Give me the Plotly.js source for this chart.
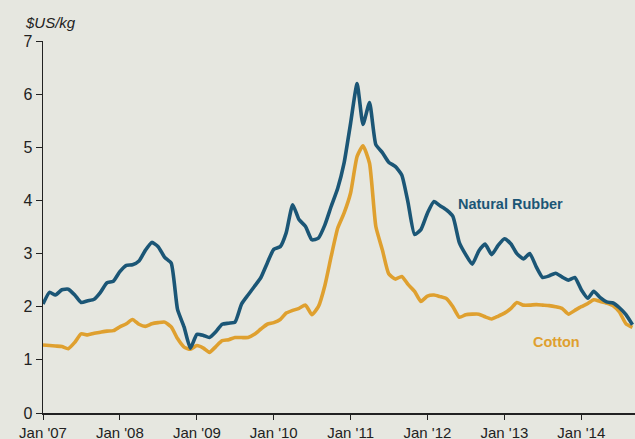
<!DOCTYPE html>
<html>
<head>
<meta charset="utf-8">
<script src="https://cdn.plot.ly/plotly-3.0.1.min.js"></script>
<style>
html,body{margin:0;padding:0;background:#e6e7e0;}
#chart{width:635px;height:439px;}
</style>
</head>
<body>
<div id="chart"></div>
<script>
// Monthly observations, Jan 2007 .. Sep 2014 (US$/kg)
var startYear = 2007;
var rubber = [
  2.05, 2.27, 2.22, 2.32, 2.33, 2.22, 2.08, 2.11, 2.14, 2.27, 2.45, 2.48,
  2.66, 2.78, 2.79, 2.86, 3.06, 3.21, 3.13, 2.93, 2.82, 1.95, 1.62, 1.22,
  1.48, 1.46, 1.42, 1.53, 1.67, 1.69, 1.71, 2.05, 2.22, 2.38, 2.55, 2.82,
  3.08, 3.13, 3.39, 3.92, 3.64, 3.51, 3.26, 3.29, 3.54, 3.89, 4.23, 4.70,
  5.45, 6.20, 5.43, 5.84, 5.05, 4.90, 4.72, 4.64, 4.48, 3.96, 3.36, 3.45,
  3.76, 3.98, 3.90, 3.82, 3.70, 3.20, 2.98, 2.80, 3.05, 3.18, 2.98, 3.15,
  3.28, 3.18, 3.00, 2.90, 3.00, 2.75, 2.55, 2.58, 2.63, 2.56, 2.50, 2.55,
  2.32, 2.16, 2.29, 2.17, 2.09, 2.07, 1.98, 1.85, 1.66
];
var cotton = [
  1.28, 1.27, 1.26, 1.25, 1.21, 1.33, 1.49, 1.47, 1.50, 1.52, 1.54, 1.55,
  1.62, 1.68, 1.76, 1.67, 1.63, 1.68, 1.70, 1.71, 1.62, 1.40, 1.24, 1.20,
  1.27, 1.22, 1.14, 1.25, 1.36, 1.38, 1.42, 1.42, 1.42, 1.48, 1.58, 1.67,
  1.70, 1.76, 1.88, 1.93, 1.97, 2.03, 1.85, 2.00, 2.40, 2.95, 3.48, 3.76,
  4.14, 4.83, 5.03, 4.70, 3.51, 3.07, 2.62, 2.52, 2.57, 2.42, 2.29, 2.10,
  2.20, 2.22, 2.19, 2.15, 2.00, 1.80, 1.85, 1.86, 1.86, 1.81, 1.77, 1.82,
  1.88, 1.97, 2.08, 2.03, 2.03, 2.04, 2.03, 2.02, 2.00, 1.97, 1.86, 1.93,
  2.00, 2.06, 2.13, 2.10, 2.07, 2.02, 1.90, 1.68, 1.61
];
var tickDates = ['2007-01-01','2008-01-01','2009-01-01','2010-01-01','2011-01-01','2012-01-01','2013-01-01','2014-01-01'];
var tickLabels = ["Jan '07","Jan '08","Jan '09","Jan '10","Jan '11","Jan '12","Jan '13","Jan '14"];
var yTicks = [0,1,2,3,4,5,6,7];

function monthDates(n){
  var out = [];
  for (var i = 0; i < n; i++){
    var y = startYear + Math.floor(i/12), m = (i%12)+1;
    out.push(y + '-' + (m<10?'0':'') + m + '-01');
  }
  return out;
}
var dates = monthDates(rubber.length);

var rubberColor = '#1b5676';
var cottonColor = '#dfa02f';
var bg = '#e6e7e0';

var traces = [
  {x: dates, y: cotton, type: 'scatter', mode: 'lines', name: 'Cotton',
   line: {color: cottonColor, width: 3.6, shape: 'spline', smoothing: 0.5}},
  {x: dates, y: rubber, type: 'scatter', mode: 'lines', name: 'Natural Rubber',
   line: {color: rubberColor, width: 3.6, shape: 'spline', smoothing: 0.5}}
];

var layout = {
  width: 635, height: 439,
  margin: {l: 43, r: 0, t: 41, b: 26, pad: 0},
  paper_bgcolor: bg, plot_bgcolor: bg,
  showlegend: false,
  font: {family: 'Liberation Sans, Arial, sans-serif', color: '#222', size: 15},
  xaxis: {
    type: 'date', range: ['2007-01-01', '2014-09-13'],
    tickvals: tickDates, ticktext: tickLabels,
    ticks: 'outside', ticklen: 5, tickcolor: '#222', tickwidth: 1,
    showline: true, linecolor: '#222', linewidth: 1.5,
    showgrid: false, zeroline: false,
    tickfont: {size: 15, color: '#222'}
  },
  yaxis: {
    range: [0, 7], tickvals: yTicks,
    ticks: 'outside', ticklen: 6, tickcolor: '#222', tickwidth: 1,
    showline: true, linecolor: '#222', linewidth: 1.5,
    showgrid: false, zeroline: false,
    tickfont: {size: 16, color: '#222'}
  },
  annotations: [
    {text: '$US/kg', xref: 'paper', yref: 'paper', x: -0.034, y: 1.049,
     xanchor: 'left', yanchor: 'middle', showarrow: false,
     font: {size: 15, color: '#222', style: 'italic'}},
    {text: '<b>Natural Rubber</b>', xref: 'paper', yref: 'y', x: 0.79, y: 3.94,
     xanchor: 'center', yanchor: 'middle', showarrow: false,
     font: {size: 14.5, color: rubberColor}},
    {text: '<b>Cotton</b>', xref: 'paper', yref: 'y', x: 0.868, y: 1.33,
     xanchor: 'center', yanchor: 'middle', showarrow: false,
     font: {size: 14.5, color: cottonColor}}
  ]
};

Plotly.newPlot('chart', traces, layout, {displayModeBar: false, staticPlot: true});
</script>
</body>
</html>
